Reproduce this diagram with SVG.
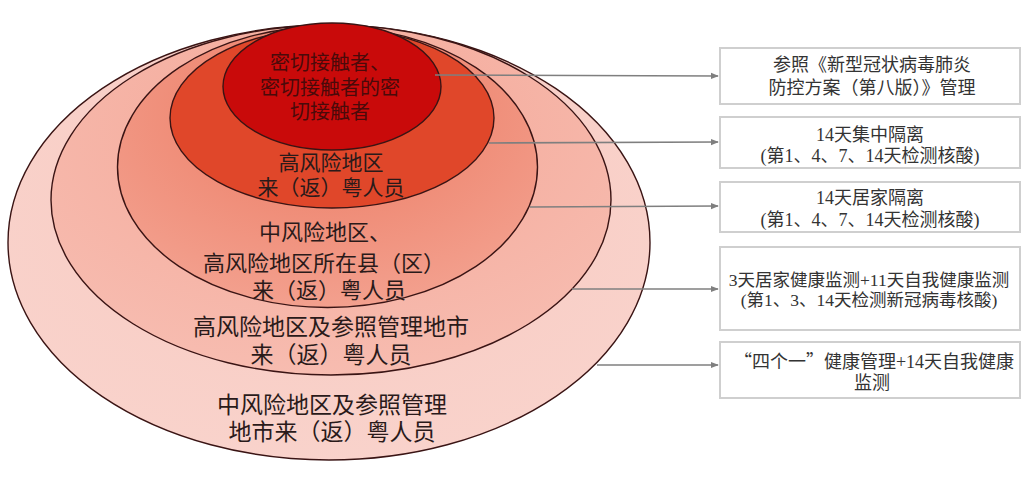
<svg xmlns="http://www.w3.org/2000/svg" width="1025" height="493" viewBox="0 0 1025 493">
<style>
.ring{stroke:#3a1414;stroke-width:1.4}
.lbl{font-family:"Noto Sans CJK SC","Noto Sans",sans-serif;fill:#2a1a1a;text-anchor:middle}
.box{fill:#fff;stroke:#cfcfcf;stroke-width:2}
.bt{font-family:"Liberation Serif","Noto Sans CJK SC",serif;font-size:18px;fill:#333;text-anchor:middle}
.cjk{font-family:"Noto Sans CJK SC",sans-serif}
.conn{stroke:#7f7f7f;stroke-width:1.6;fill:none;marker-end:url(#ah)}
</style>
<defs>
<marker id="ah" viewBox="0 0 10 10" refX="9" refY="5" markerWidth="5" markerHeight="5" orient="auto" markerUnits="strokeWidth"><path d="M0,1 L10,5 L0,9 z" fill="#7f7f7f"/></marker>
<radialGradient id="g3" cx="0.5" cy="0.3" r="0.7"><stop offset="0" stop-color="#ec7a62"/><stop offset="1" stop-color="#f3a08e"/></radialGradient>
<radialGradient id="g4" cx="0.5" cy="0.3" r="0.7"><stop offset="0" stop-color="#f4a898"/><stop offset="1" stop-color="#f7bcb0"/></radialGradient>
<radialGradient id="g5" cx="0.5" cy="0.4" r="0.7"><stop offset="0" stop-color="#f8c9c0"/><stop offset="1" stop-color="#f9d4cd"/></radialGradient>
</defs>
<rect width="1025" height="493" fill="#fff"/>
<g id="ring5"><ellipse class="ring" cx="329" cy="242.5" rx="321" ry="217.5" fill="url(#g5)"/>
<text class="lbl" font-size="23" x="332" y="413">中风险地区及参照管理</text>
<text class="lbl" font-size="23" x="332" y="440">地市来（返）粤人员</text></g>
<g id="ring4"><ellipse class="ring" cx="331" cy="200" rx="280" ry="175" fill="url(#g4)"/>
<text class="lbl" font-size="23" x="331" y="335">高风险地区及参照管理地市</text>
<text class="lbl" font-size="23" x="331" y="363">来（返）粤人员</text></g>
<g id="ring3"><ellipse class="ring" cx="327.5" cy="167" rx="210" ry="140.5" fill="url(#g3)"/>
<text class="lbl" font-size="22" x="325" y="240">中风险地区、</text>
<text class="lbl" font-size="22" x="324" y="271">高风险地区所在县（区）</text>
<text class="lbl" font-size="22" x="329" y="298">来（返）粤人员</text></g>
<g id="ring2"><ellipse class="ring" cx="332" cy="118" rx="162" ry="90" fill="#e0472a"/>
<text class="lbl" font-size="21" x="331" y="170">高风险地区</text>
<text class="lbl" font-size="21" x="331" y="195">来（返）粤人员</text></g>
<g id="ring1"><ellipse class="ring" cx="332" cy="86.5" rx="109" ry="63.5" fill="#c90a0a"/>
<text class="lbl" font-size="20" x="330" y="70" style="fill:#4a0a0a">密切接触者、</text>
<text class="lbl" font-size="20" x="330" y="95" style="fill:#4a0a0a">密切接触者的密</text>
<text class="lbl" font-size="20" x="330" y="119" style="fill:#4a0a0a">切接触者</text></g>
<g id="connectors">
<line class="conn" x1="435" y1="75" x2="718" y2="76"/>
<line class="conn" x1="489" y1="143" x2="718" y2="142"/>
<line class="conn" x1="530" y1="207" x2="718" y2="206"/>
<line class="conn" x1="572" y1="289" x2="718" y2="289"/>
<line class="conn" x1="597" y1="365" x2="718" y2="365"/>
</g>
<g id="box1"><rect class="box" x="720" y="48" width="300" height="56"/>
<text class="bt cjk" x="872" y="71">参照《新型冠状病毒肺炎</text>
<text class="bt cjk" x="872" y="94">防控方案（第八版）》管理</text></g>
<g id="box2"><rect class="box" x="720" y="117" width="300" height="51"/>
<text class="bt" x="870" y="141">14天集中隔离</text>
<text class="bt" x="870" y="162">(第1、4、7、14天检测核酸)</text></g>
<g id="box3"><rect class="box" x="720" y="182" width="300" height="50"/>
<text class="bt" x="870" y="204">14天居家隔离</text>
<text class="bt" x="870" y="226">(第1、4、7、14天检测核酸)</text></g>
<g id="box4"><rect class="box" x="720" y="247" width="300" height="83"/>
<text class="bt" x="869" y="286" font-size="17.5" style="font-size:17.5px">3天居家健康监测+11天自我健康监测</text>
<text class="bt" x="869" y="306" style="font-size:17.5px">(第1、3、14天检测新冠病毒核酸)</text></g>
<g id="box5"><rect class="box" x="720" y="342" width="300" height="56"/>
<text class="bt" x="874" y="368"><tspan class="cjk">“</tspan>四个一<tspan class="cjk">”</tspan>健康管理+14天自我健康</text>
<text class="bt" x="872" y="389">监测</text></g>
</svg>
